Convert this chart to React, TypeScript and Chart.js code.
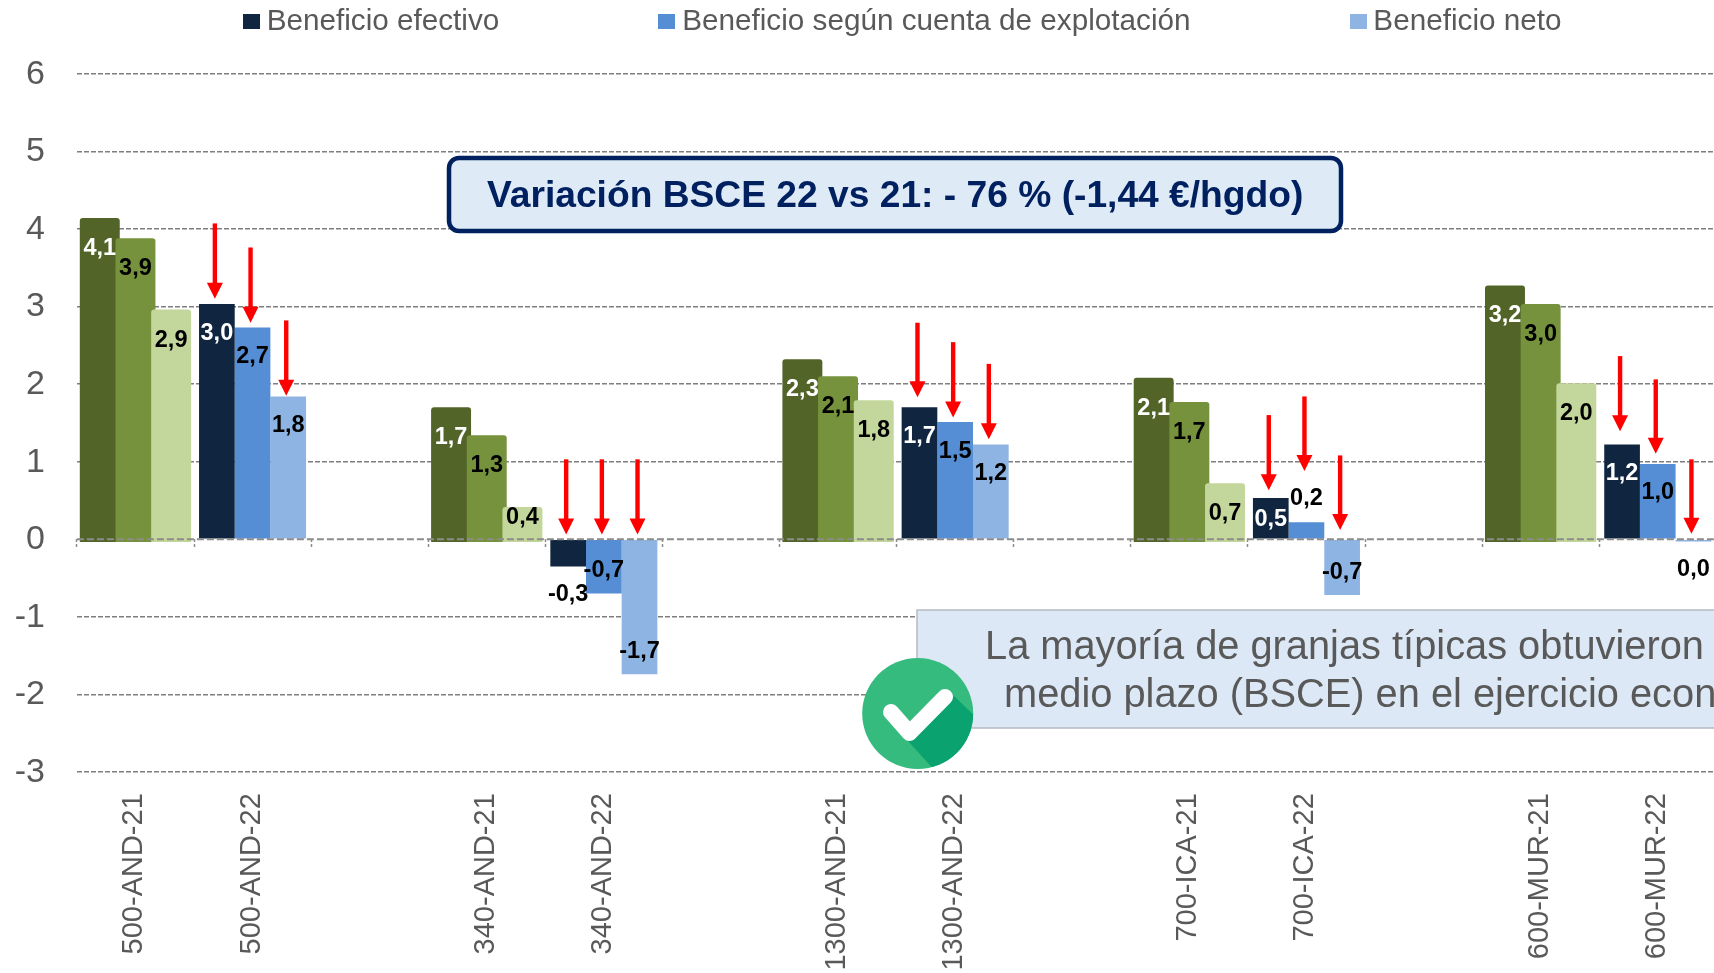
import React, { useEffect, useRef } from "react";
import { Chart, registerables } from "chart.js";

Chart.register(...registerables);

// Categories (blank entries are the gaps between farm pairs)
const categories = [
  "500-AND-21", "500-AND-22", "",
  "340-AND-21", "340-AND-22", "",
  "1300-AND-21", "1300-AND-22", "",
  "700-ICA-21", "700-ICA-22", "",
  "600-MUR-21", "600-MUR-22",
];

const legendNames = ["Beneficio efectivo", "Beneficio según cuenta de explotación", "Beneficio neto"];
const yTicks = [-3, -2, -1, 0, 1, 2, 3, 4, 5, 6];

// Values per group: [500-AND, 340-AND, 1300-AND, 700-ICA, 600-MUR]
const efectivo21 = [4.14, 1.7, 2.32, 2.08, 3.27];
const explotacion21 = [3.88, 1.34, 2.1, 1.77, 3.03];
const neto21 = [2.96, 0.415, 1.79, 0.72, 2.01];
const efectivo22 = [3.03, -0.35, 1.7, 0.53, 1.22];
const explotacion22 = [2.73, -0.7, 1.51, 0.22, 0.97];
const neto22 = [1.84, -1.74, 1.22, -0.72, -0.03];

// Printed value labels
const efectivo21Labels = ["4,1", "1,7", "2,3", "2,1", "3,2"];
const explotacion21Labels = ["3,9", "1,3", "2,1", "1,7", "3,0"];
const neto21Labels = ["2,9", "0,4", "1,8", "0,7", "2,0"];
const efectivo22Labels = ["3,0", "-0,3", "1,7", "0,5", "1,2"];
const explotacion22Labels = ["2,7", "-0,7", "1,5", "0,2", "1,0"];
const neto22Labels = ["1,8", "-1,7", "1,2", "-0,7", "0,0"];

// Red arrows: tail and tip, in axis units
const arrowTailsEfectivo = [4.07, 1.03, 2.79, 1.6, 2.36];
const arrowTipsEfectivo = [3.1, 0.06, 1.83, 0.63, 1.39];
const arrowTailsExplotacion = [3.76, 1.03, 2.54, 1.84, 2.06];
const arrowTipsExplotacion = [2.79, 0.06, 1.57, 0.88, 1.1];
const arrowTailsNeto = [2.82, 1.03, 2.26, 1.08, 1.03];
const arrowTipsNeto = [1.85, 0.06, 1.29, 0.12, 0.07];

const titleText = "Variación BSCE 22 vs 21: - 76 % (-1,44 €/hgdo)";
const noteLine1 = "La mayoría de granjas típicas obtuvieron";
const noteLine2 = "medio plazo (BSCE) en el ejercicio económico";

const FONT = '"Liberation Sans", Arial, sans-serif';
const GREY = "#595959";
const COLORS = {
  g1: "#526428", g2: "#76923C", g3: "#C3D69B",
  b1: "#10253F", b2: "#558ED5", b3: "#8EB4E3",
};

const CANVAS_W = 1810;
const CANVAS_H = 1207;
const OFFSET_Y = 165;

const spread = (vals: number[], pos: number) => {
  const out: (number | null)[] = categories.map(() => null);
  vals.forEach((v, i) => { out[i * 3 + pos] = v; });
  return out;
};

const swatch = (color: string) => {
  const c = document.createElement("canvas");
  c.width = 17; c.height = 15;
  const x = c.getContext("2d")!;
  x.fillStyle = color;
  x.fillRect(0, 0, 17, 15);
  return c;
};

const roundRect = (ctx: CanvasRenderingContext2D, x: number, y: number, w: number, h: number, r: number) => {
  ctx.beginPath();
  ctx.moveTo(x + r, y);
  ctx.arcTo(x + w, y, x + w, y + h, r);
  ctx.arcTo(x + w, y + h, x, y + h, r);
  ctx.arcTo(x, y + h, x, y, r);
  ctx.arcTo(x, y, x + w, y, r);
  ctx.closePath();
};

const drawArrow = (ctx: CanvasRenderingContext2D, x: number, y0: number, y1: number) => {
  ctx.fillStyle = "#FF0000";
  ctx.fillRect(x - 2.2, y0, 4.4, y1 - y0 - 14);
  ctx.beginPath();
  ctx.moveTo(x - 8, y1 - 16);
  ctx.lineTo(x + 8, y1 - 16);
  ctx.lineTo(x, y1);
  ctx.closePath();
  ctx.fill();
};

const overlayPlugin = {
  id: "overlay",
  afterLayout(chart: any) {
    // the legend sits off-centre in the reference
    chart.legend.left += 48;
    chart.legend.right += 48;
    chart.legend.top += 5;
  },
  afterDraw(chart: any) {
    const ctx: CanvasRenderingContext2D = chart.ctx;
    const y = chart.scales.y;
    ctx.save();

    // dashed zero line over the bars
    ctx.save();
    ctx.strokeStyle = "#8C8C8C";
    ctx.lineWidth = 2;
    ctx.setLineDash([7, 3]);
    ctx.beginPath();
    ctx.moveTo(chart.chartArea.left, y.getPixelForValue(0));
    ctx.lineTo(chart.chartArea.right, y.getPixelForValue(0));
    ctx.stroke();
    ctx.restore();

    // value labels
    chart.data.datasets.forEach((ds: any, di: number) => {
      const meta = chart.getDatasetMeta(di);
      meta.data.forEach((el: any, i: number) => {
        const v = ds.data[i];
        if (v === null || v === undefined) return;
        const h = Math.abs(el.y - el.base);
        const text = ds.printed[(i - ds.pos) / 3];
        let cy: number;
        if (v >= 0) {
          if (v < 0.4) cy = el.y - 24;
          else if (v < 0.45) cy = el.y + 10;
          else cy = el.y + Math.min(28, h / 2) + ds.labelShift;
        } else cy = v > -0.4 ? el.y + 28 : el.y - 23;
        const outside = Math.abs(v) < 0.4;
        ctx.font = `bold 23.5px ${FONT}`;
        ctx.textAlign = "center";
        ctx.textBaseline = "middle";
        ctx.fillStyle = !outside && ds.labelColor === "#FFFFFF" ? "#FFFFFF" : "#000000";
        ctx.fillText(text, el.x, cy);
      });
    });

    // arrows attached to 2022 bars
    chart.data.datasets.forEach((ds: any, di: number) => {
      if (!ds.tails) return;
      const meta = chart.getDatasetMeta(di);
      ds.tails.forEach((t: number, g: number) => {
        const el = meta.data[g * 3 + ds.pos];
        drawArrow(ctx, el.x - 2, y.getPixelForValue(t), y.getPixelForValue(ds.tips[g]));
      });
    });

    ctx.translate(0, OFFSET_Y);

    // headline box
    roundRect(ctx, 449, 158, 892, 73, 10);
    ctx.fillStyle = "#DEEAF6";
    ctx.fill();
    ctx.lineWidth = 4.5;
    ctx.strokeStyle = "#002060";
    ctx.stroke();
    ctx.font = `bold 37.2px ${FONT}`;
    ctx.fillStyle = "#002060";
    ctx.textAlign = "left";
    ctx.textBaseline = "middle";
    ctx.fillText(titleText, 487, 197);

    // note box
    ctx.fillStyle = "#DCE8F5";
    ctx.fillRect(917, 610, 900, 118);
    ctx.strokeStyle = "#B4BAC2";
    ctx.lineWidth = 1.5;
    ctx.strokeRect(917, 610, 900, 118);
    ctx.font = `39.8px ${FONT}`;
    ctx.fillStyle = GREY;
    ctx.fillText(noteLine1, 985, 648);
    ctx.fillText(noteLine2, 1004, 696);

    // badge
    const cx = 917.7, cy = 713.5, r = 55.5;
    ctx.beginPath();
    ctx.arc(cx, cy, r, 0, Math.PI * 2);
    ctx.fillStyle = "#36BB7E";
    ctx.fill();
    ctx.save();
    ctx.beginPath();
    ctx.arc(cx, cy, r, 0, Math.PI * 2);
    ctx.clip();
    ctx.beginPath();
    ctx.moveTo(954, 696);
    ctx.lineTo(1000, 740);
    ctx.lineTo(960, 800);
    ctx.lineTo(931.5, 767);
    ctx.lineTo(908, 741);
    ctx.closePath();
    ctx.fillStyle = "#0AA26E";
    ctx.fill();
    ctx.restore();
    ctx.beginPath();
    ctx.moveTo(891, 712);
    ctx.lineTo(909.5, 733);
    ctx.lineTo(945, 697);
    ctx.lineWidth = 16;
    ctx.lineCap = "round";
    ctx.lineJoin = "round";
    ctx.strokeStyle = "#FFFFFF";
    ctx.stroke();

    ctx.restore();
  },
};

export default function App() {
  const ref = useRef<HTMLCanvasElement>(null);
  useEffect(() => {
    const bar = (label: string, vals: number[], printed: string[], pos: number, stack: string, color: string, labelColor: string, extra: any = {}) => ({
      label, data: spread(vals, pos), printed, pos, stack, backgroundColor: color, labelColor, labelShift: 1, ...extra,
    });
    // empty datasets that fix the left-to-right slot order, so that the
    // real datasets can be layered independently with `order`
    const slot = (stack: string, order: number) => ({ label: "", data: categories.map(() => null), stack, order });
    const green = (order: number) => ({ barPercentage: 1.12, borderRadius: 3, base: -0.035, labelShift: 2.5, order });
    const chart = new Chart(ref.current!, {
      type: "bar",
      data: {
        labels: categories,
        datasets: [
          slot("a", -3), slot("b", -2), slot("c", -1),
          bar("Beneficio efectivo 21", efectivo21, efectivo21Labels, 0, "a", COLORS.g1, "#FFFFFF", green(3)),
          bar("Explotación 21", explotacion21, explotacion21Labels, 0, "b", COLORS.g2, "#000000", green(2)),
          bar("Neto 21", neto21, neto21Labels, 0, "c", COLORS.g3, "#000000", green(1)),
          bar(legendNames[0], efectivo22, efectivo22Labels, 1, "a", COLORS.b1, "#FFFFFF", { tails: arrowTailsEfectivo, tips: arrowTipsEfectivo }),
          bar(legendNames[1], explotacion22, explotacion22Labels, 1, "b", COLORS.b2, "#000000", { tails: arrowTailsExplotacion, tips: arrowTipsExplotacion }),
          bar(legendNames[2], neto22, neto22Labels, 1, "c", COLORS.b3, "#000000", { tails: arrowTailsNeto, tips: arrowTipsNeto }),
        ] as any,
      },
      options: {
        responsive: false,
        animation: false,
        devicePixelRatio: 1,
        categoryPercentage: 0.914,
        barPercentage: 1,
        layout: { autoPadding: false, padding: { right: CANVAS_W - 1716.3, bottom: 270 } },
        plugins: {
          tooltip: { enabled: false },
          legend: {
            position: "top",
            onClick: () => {},
            labels: {
              padding: 167,
              boxWidth: 1,
              usePointStyle: true,
              color: GREY,
              font: { family: FONT, size: 29.7 },
              generateLabels: () =>
                legendNames.map((text, i) => ({
                  text,
                  fontColor: GREY,
                  pointStyle: swatch([COLORS.b1, COLORS.b2, COLORS.b3][i]),
                  datasetIndex: i + 6,
                })),
            },
          },
        },
        scales: {
          x: {
            position: { y: 0 },
            afterFit: (s: any) => { s.height = 0; s.paddingLeft = 0; s.paddingRight = 0; },
            grid: {
              drawOnChartArea: false,
              drawTicks: true,
              tickLength: 9,
              tickColor: "#8C8C8C",
              tickWidth: 1.5,
              tickBorderDash: [3, 2],
              z: 1,
            },
            border: { display: false },
            ticks: {
              autoSkip: false,
              minRotation: 90,
              maxRotation: 90,
              padding: 245,
              labelOffset: -1,
              color: GREY,
              font: { family: FONT, size: 29 },
            },
          },
          y: {
            min: -3,
            max: 6.412,
            afterFit: (s: any) => { s.width = 76.9; },
            afterBuildTicks: (s: any) => { s.ticks = yTicks.map((value) => ({ value })); },
            grid: {
              color: (c: any) => (c.tick && c.tick.value === 0 ? "rgba(0,0,0,0)" : "#7F7F7F"),
              lineWidth: 1.5,
              drawTicks: false,
              tickBorderDash: [],
            },
            border: { display: false, dash: [5, 2] },
            ticks: {
              padding: 32,
              labelOffset: 0.5,
              color: GREY,
              font: { family: FONT, size: 34 },
              callback: (v: any) => String(v),
            },
          },
        },
      } as any,
      plugins: [overlayPlugin],
    });
    return () => chart.destroy();
  }, []);
  return (
    <div style={{ position: "fixed", left: 0, top: 0, width: 1714, height: 973, overflow: "hidden", background: "#fff" }}>
      <canvas ref={ref} width={CANVAS_W} height={CANVAS_H} style={{ position: "absolute", left: 0, top: -OFFSET_Y }} />
    </div>
  );
}
